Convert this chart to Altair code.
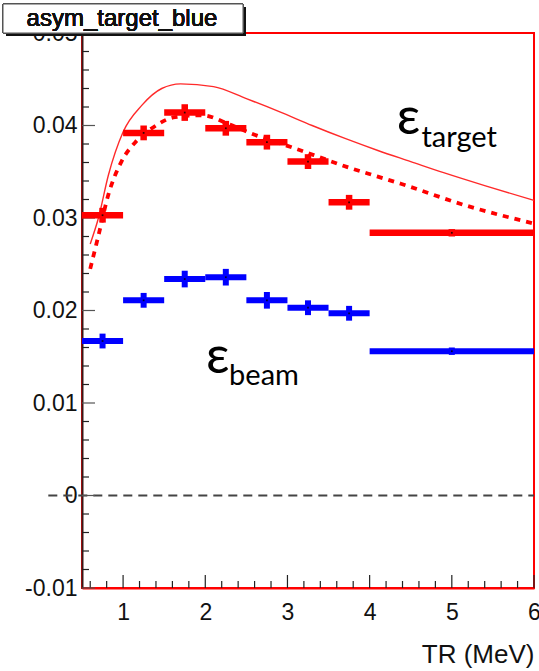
import altair as alt
import pandas as pd

# ---- data ----
bin_lo = [0.5, 1.0, 1.5, 2.0, 2.5, 3.0, 3.5, 4.0]
bin_hi = [1.0, 1.5, 2.0, 2.5, 3.0, 3.5, 4.0, 6.0]
bin_center = [0.75, 1.25, 1.75, 2.25, 2.75, 3.25, 3.75, 5.0]

red_val = [0.0303, 0.0392, 0.0414, 0.0397, 0.0382, 0.0361, 0.0317, 0.0284]
red_err = [0.0008, 0.0008, 0.0009, 0.0008, 0.0008, 0.0008, 0.0008, 0.0004]

blue_val = [0.0167, 0.0211, 0.0234, 0.0236, 0.0211, 0.0203, 0.0197, 0.0156]
blue_err = [0.0008, 0.0008, 0.0009, 0.0009, 0.0009, 0.0008, 0.0008, 0.0004]

solid_x = [0.6, 0.7, 0.82, 1.0, 1.23, 1.47, 1.7, 2.1, 2.5, 2.9, 3.3, 3.7, 4.1, 4.5, 4.9, 5.4, 6.0]
solid_y = [0.0272, 0.0300, 0.0346, 0.0393, 0.0422, 0.0440, 0.0445, 0.0442, 0.0429, 0.0415,
           0.0400, 0.0386, 0.0373, 0.0361, 0.0349, 0.0335, 0.0319]

dot_x = [0.6, 0.7, 0.82, 0.98, 1.15, 1.35, 1.63, 1.96, 2.3, 2.6, 3.0, 3.32, 3.73, 4.09, 4.38, 5.19, 6.0]
dot_y = [0.0245, 0.0281, 0.0325, 0.0361, 0.0382, 0.0397, 0.0409, 0.0411, 0.0401, 0.0390,
         0.0378, 0.0368, 0.0355, 0.0345, 0.0337, 0.0313, 0.0294]

x_major = [1, 2, 3, 4, 5, 6]
x_minor = [0.6, 0.8, 1.2, 1.4, 1.6, 1.8, 2.2, 2.4, 2.6, 2.8, 3.2, 3.4, 3.6, 3.8,
           4.2, 4.4, 4.6, 4.8, 5.2, 5.4, 5.6, 5.8]
y_major = [-0.01, 0.0, 0.01, 0.02, 0.03, 0.04, 0.05]
y_minor = [-0.008, -0.006, -0.004, -0.002, 0.002, 0.004, 0.006, 0.008,
           0.012, 0.014, 0.016, 0.018, 0.022, 0.024, 0.026, 0.028,
           0.032, 0.034, 0.036, 0.038, 0.042, 0.044, 0.046, 0.048]

W, H = 452, 555
RED = "#ff0000"
BLUE = "#0000ff"
FONT = "Liberation Sans"

xs = alt.Scale(domain=[0.5, 6.0], nice=False, zero=False)
ys = alt.Scale(domain=[-0.01, 0.05], nice=False, zero=False)

x_axis = alt.Axis(values=x_major, format="d", labelFont=FONT, labelFontSize=23,
                  labelColor="#111", labelPadding=13, labelFlush=False, ticks=False,
                  grid=False, domain=True, domainColor=RED, domainWidth=2,
                  title="TR (MeV)", titleFont=FONT, titleFontSize=26,
                  titleFontWeight="normal", titleColor="#111", titleAnchor="end",
                  titleAlign="right", titleX=W, titleY=74, titleBaseline="alphabetic")
y_axis = alt.Axis(values=y_major,
                  labelExpr="datum.value == 0 ? '0' : (datum.value < 0 ? '-' + format(-datum.value, '.2f') : format(datum.value, '.2f'))",
                  labelFont=FONT, labelFontSize=23, labelColor="#111", labelPadding=5,
                  labelFlush=False, ticks=False, grid=False, domain=True,
                  domainColor="#3a1a1a", domainWidth=2, title=None)

bins = pd.DataFrame({"lo": bin_lo, "hi": bin_hi, "c": bin_center,
                     "r": red_val, "re": red_err, "b": blue_val, "be": blue_err})
bins["r_lo"] = bins["r"] - bins["re"]
bins["r_hi"] = bins["r"] + bins["re"]
bins["b_lo"] = bins["b"] - bins["be"]
bins["b_hi"] = bins["b"] + bins["be"]

base = alt.Chart(bins)

# axes carrier (invisible)
axes_layer = base.mark_point(opacity=0).encode(
    x=alt.X("c:Q", scale=xs, axis=x_axis),
    y=alt.Y("r:Q", scale=ys, axis=y_axis),
)

# ticks inside the frame
xmaj = alt.Chart(pd.DataFrame({"t": x_major})).mark_rule(color="#222", strokeWidth=1.2).encode(
    x=alt.X("t:Q", scale=xs), y=alt.value(H), y2=alt.value(H - 13))
xmin = alt.Chart(pd.DataFrame({"t": x_minor})).mark_rule(color="#222", strokeWidth=1.2).encode(
    x=alt.X("t:Q", scale=xs), y=alt.value(H), y2=alt.value(H - 7))
ymaj = alt.Chart(pd.DataFrame({"t": y_major})).mark_rule(color="#555", strokeWidth=1.2).encode(
    y=alt.Y("t:Q", scale=ys), x=alt.value(0), x2=alt.value(13))
ymin = alt.Chart(pd.DataFrame({"t": y_minor})).mark_rule(color="#222", strokeWidth=1.2).encode(
    y=alt.Y("t:Q", scale=ys), x=alt.value(0), x2=alt.value(7))

# zero dashed line (extends left through the label as in ROOT)
zero = alt.Chart(pd.DataFrame({"a": [0.09], "b": [6.0], "z": [0.0]})).mark_rule(
    color="#444", strokeWidth=1.8, strokeDash=[9, 6]).encode(
    x=alt.X("a:Q", scale=xs), x2="b:Q", y=alt.Y("z:Q", scale=ys))

# curves
solid = alt.Chart(pd.DataFrame({"x": solid_x, "y": solid_y})).mark_line(
    color="#ff2a2a", strokeWidth=1.4, interpolate="monotone").encode(
    x=alt.X("x:Q", scale=xs), y=alt.Y("y:Q", scale=ys))
dotted = alt.Chart(pd.DataFrame({"x": dot_x, "y": dot_y})).mark_line(
    color=RED, strokeWidth=3.8, strokeDash=[6, 6], interpolate="monotone").encode(
    x=alt.X("x:Q", scale=xs), y=alt.Y("y:Q", scale=ys))

def crosses(v, lo, hi, color, w):
    h = base.mark_rule(color=color, strokeWidth=w, strokeCap="butt").encode(
        x=alt.X("lo:Q", scale=xs), x2="hi:Q", y=alt.Y(f"{v}:Q", scale=ys))
    vv = base.mark_rule(color=color, strokeWidth=w, strokeCap="butt").encode(
        x=alt.X("c:Q", scale=xs), y=alt.Y(f"{lo}:Q", scale=ys), y2=f"{hi}:Q")
    d = base.mark_point(shape="square", filled=True, color="#000", size=3, opacity=0.8).encode(
        x=alt.X("c:Q", scale=xs), y=alt.Y(f"{v}:Q", scale=ys))
    return [h, vv, d]

red_marks = crosses("r", "r_lo", "r_hi", RED, 6.5)
blue_marks = crosses("b", "b_lo", "b_hi", BLUE, 6)

# annotations
def txt(x, y, s, size):
    return alt.Chart(pd.DataFrame({"x": [x], "y": [y], "s": [s]})).mark_text(
        font="Lato, 'Noto Sans', sans-serif", fontSize=size, align="left",
        baseline="alphabetic", color="#000").encode(
        x=alt.X("x:Q", scale=xs), y=alt.Y("y:Q", scale=ys), text="s:N")

eps_t = txt(4.33, 0.0391, "ε", 52)
sub_t = txt(4.63, 0.0377, "target", 29)
eps_b = txt(2.01, 0.0132, "ε", 52)
sub_b = txt(2.29, 0.0119, "beam", 29)

# ROOT title box
shadow = base.mark_rect(color="#111").encode(
    x=alt.value(-76), x2=alt.value(164), y=alt.value(-26), y2=alt.value(3))
box = base.mark_rect(fill="#fff", stroke="#555", strokeWidth=1).encode(
    x=alt.value(-79), x2=alt.value(161), y=alt.value(-29), y2=alt.value(0))
box_txt = base.mark_text(font=FONT, fontSize=24, align="center", baseline="alphabetic",
                         color="#111", text="asym_target_blue").encode(
    x=alt.value(40), y=alt.value(-7))

chart = alt.layer(
    axes_layer, zero, xmaj, xmin, ymaj, ymin, solid, dotted,
    *red_marks, *blue_marks, eps_t, sub_t, eps_b, sub_b, shadow, box, box_txt
).properties(
    width=W, height=H,
    autosize=alt.AutoSizeParams(type="none"),
    padding={"left": 82, "top": 33, "right": 5, "bottom": 83},
    background="#ffffff",
).configure_view(stroke=RED, strokeWidth=2)

chart.save("out.html", embed_options={"renderer": "svg", "actions": False})
